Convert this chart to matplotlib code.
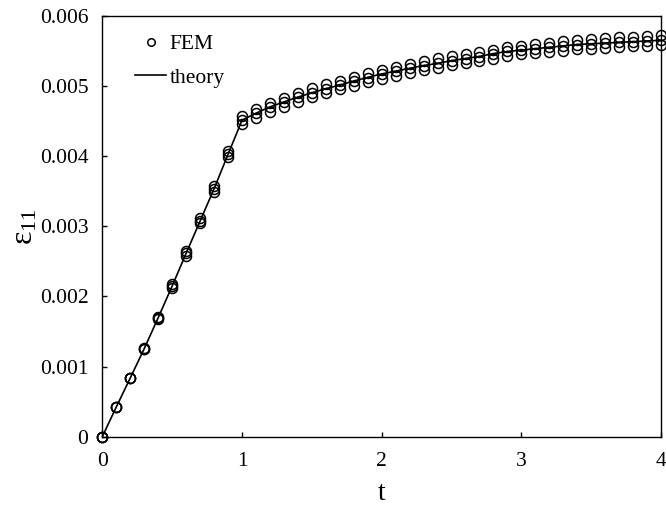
import matplotlib
matplotlib.use("Agg")
import matplotlib.pyplot as plt
import numpy as np

plt.rcParams['font.family'] = ['Liberation Serif', 'DejaVu Serif']
plt.rcParams['mathtext.fontset'] = 'custom'
plt.rcParams['mathtext.rm'] = 'Liberation Serif'
plt.rcParams['mathtext.it'] = 'Liberation Serif:italic'

# time samples
t = [0.0, 0.1, 0.2, 0.3, 0.4, 0.5, 0.6, 0.7, 0.8, 0.9,
     1.0, 1.1, 1.2, 1.3, 1.4, 1.5, 1.6, 1.7, 1.8, 1.9,
     2.0, 2.1, 2.2, 2.3, 2.4, 2.5, 2.6, 2.7, 2.8, 2.9,
     3.0, 3.1, 3.2, 3.3, 3.4, 3.5, 3.6, 3.7, 3.8, 3.9, 4.0]

# analytical strain
theory = [0.0, 0.000423, 0.000836, 0.001254, 0.001695, 0.002147, 0.002613, 0.003073, 0.003533, 0.004023,
          0.004510, 0.004610, 0.004700, 0.004770, 0.004840, 0.004900, 0.004960, 0.005010, 0.005070, 0.005120,
          0.005170, 0.005210, 0.005250, 0.005290, 0.005320, 0.005360, 0.005390, 0.005420, 0.005460, 0.005490,
          0.005510, 0.005530, 0.005550, 0.005570, 0.005590, 0.005600, 0.005610, 0.005620, 0.005630, 0.005640, 0.005650]

# FEM strain at three sampling points
fem_upper = [0.0, 0.000423, 0.000840, 0.001264, 0.001709, 0.002175, 0.002645, 0.003111, 0.003575, 0.004074,
             0.004576, 0.004676, 0.004761, 0.004833, 0.004904, 0.004967, 0.005024, 0.005076, 0.005133, 0.005181,
             0.005229, 0.005272, 0.005312, 0.005352, 0.005390, 0.005424, 0.005455, 0.005485, 0.005518, 0.005547,
             0.005572, 0.005595, 0.005617, 0.005636, 0.005655, 0.005669, 0.005682, 0.005693, 0.005703, 0.005711, 0.005719]
fem_mid = [0.0, 0.000423, 0.000836, 0.001254, 0.001695, 0.002147, 0.002613, 0.003073, 0.003533, 0.004023,
           0.004514, 0.004614, 0.004700, 0.004771, 0.004843, 0.004904, 0.004962, 0.005014, 0.005067, 0.005119,
           0.005167, 0.005208, 0.005249, 0.005286, 0.005319, 0.005355, 0.005386, 0.005417, 0.005455, 0.005490,
           0.005508, 0.005528, 0.005548, 0.005566, 0.005585, 0.005597, 0.005609, 0.005620, 0.005629, 0.005638, 0.005647]
fem_lower = [0.0, 0.000423, 0.000830, 0.001249, 0.001677, 0.002114, 0.002574, 0.003040, 0.003490, 0.003980,
             0.004457, 0.004547, 0.004633, 0.004704, 0.004776, 0.004838, 0.004900, 0.004953, 0.005004, 0.005057,
             0.005104, 0.005146, 0.005186, 0.005224, 0.005258, 0.005292, 0.005322, 0.005352, 0.005388, 0.005429,
             0.005447, 0.005466, 0.005484, 0.005502, 0.005520, 0.005532, 0.005543, 0.005553, 0.005562, 0.005570, 0.005576]

x_ticks = [0, 1, 2, 3, 4]
x_labels = ['0', '1', '2', '3', '4']
y_ticks = [0, 0.001, 0.002, 0.003, 0.004, 0.005, 0.006]
y_labels = ['0', '0.001', '0.002', '0.003', '0.004', '0.005', '0.006']

fig = plt.figure(figsize=(6.66, 5.11), dpi=100)
ax = fig.add_axes([0.1536, 0.1454, 0.8390, 0.8239])

mk = dict(marker='o', linestyle='none', markersize=7.2, markerfacecolor='none',
          markeredgecolor='black', markeredgewidth=1.1, clip_on=False, zorder=3)
ax.plot(t, fem_upper, label='FEM', **mk)
ax.plot(t, fem_mid, **mk)
ax.plot(t, fem_lower, **mk)
ax.plot(t, theory, color='black', linewidth=1.2, label='theory', zorder=4)

ax.set_xlim(0, 4)
ax.set_ylim(0, 0.006)
ax.set_xticks(x_ticks)
ax.set_xticklabels(x_labels)
ax.set_yticks(y_ticks)
ax.set_yticklabels(y_labels)
ax.tick_params(direction='in', length=3.5, width=1.0, labelsize=15.5)
ax.tick_params(axis='x', pad=11)
ax.tick_params(axis='y', pad=10)
for s in ax.spines.values():
    s.set_linewidth(1.0)

ax.set_xlabel('t', fontsize=20, labelpad=7)
ax.set_ylabel(r'$\mathrm{\varepsilon_{11}}$', fontsize=23, labelpad=0)

ax.legend(loc='upper left', bbox_to_anchor=(0.059, 0.956), frameon=False,
          fontsize=15.5, borderaxespad=0, borderpad=0, handlelength=1.45,
          handletextpad=0.15, labelspacing=0.62, markerscale=0.75, numpoints=1)

fig.savefig('out.png', dpi=100)
